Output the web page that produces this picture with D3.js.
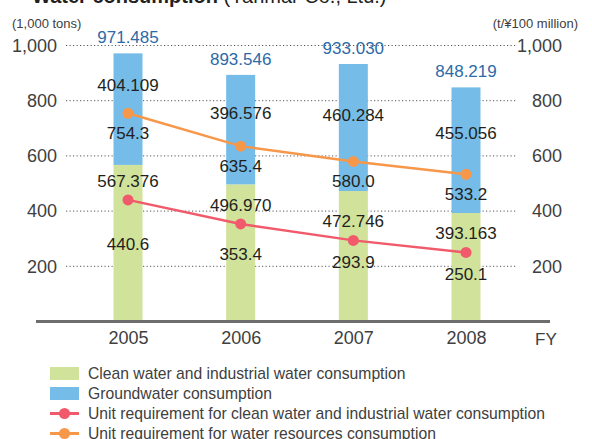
<!DOCTYPE html>
<html><head><meta charset="utf-8">
<script src="https://cdn.jsdelivr.net/npm/d3@7"></script>
<style>
html,body{margin:0;padding:0;background:#fff;}
svg{display:block;font-family:"Liberation Sans",Arial,sans-serif;}
</style></head>
<body><svg id="c" width="592" height="439"></svg>
<script>
const years = ["2005","2006","2007","2008"];
const cleanWater = [567.376, 496.970, 472.746, 393.163];
const groundWater = [404.109, 396.576, 460.284, 455.056];
const totals = [971.485, 893.546, 933.030, 848.219];
const unitClean = [440.6, 353.4, 293.9, 250.1];
const unitResources = [754.3, 635.4, 580.0, 533.2];
const leftTicks = [200, 400, 600, 800, 1000];
const rightTicks = [200, 400, 600, 800, 1000];
const legendLabels = [
  "Clean water and industrial water consumption",
  "Groundwater consumption",
  "Unit requirement for clean water and industrial water consumption",
  "Unit requirement for water resources consumption"
];

const C = {green:"#d1e29a", blue:"#75bce8", red:"#f05a6b", orange:"#f7974a", blueText:"#2c6aa8", text:"#231f20", axis:"#404040"};
const svg = d3.select("#c");
const fmt3 = d3.format(".3f"), fmt1 = d3.format(".1f"), fmtT = d3.format(",");

const x = d3.scalePoint().domain(years).range([128, 466]);
const y = d3.scaleLinear().domain([0, 1000]).range([321.5, 45.5]);
const yR = d3.scaleLinear().domain([0, 1000]).range([321.5, 45.5]);
const barW = 29;

// title (partially cut at top)
const title = svg.append("text").attr("x", 32).attr("y", 3).attr("font-size", 20).attr("fill", "#231f20");
title.append("tspan").attr("font-weight", "bold").text("Water consumption");
title.append("tspan").text(" (Yanmar Co., Ltd.)");

// units
svg.append("text").attr("x", 12).attr("y", 28).attr("font-size", 13).attr("fill", "#404040").text("(1,000 tons)");
svg.append("text").attr("x", 578).attr("y", 28).attr("font-size", 13).attr("fill", "#404040").attr("text-anchor", "end").text("(t/¥100 million)");

// gridlines
svg.append("g").selectAll("line").data(leftTicks).join("line")
  .attr("x1", 66).attr("x2", 516).attr("y1", d => y(d)).attr("y2", d => y(d))
  .attr("stroke", "#555").attr("stroke-width", 1).attr("stroke-dasharray", "1.2,2.3");

// left axis
const gL = svg.append("g").attr("transform", "translate(60,0)")
  .call(d3.axisLeft(y).tickValues(leftTicks).tickFormat(fmtT).tickSize(0).tickPadding(3));
gL.select(".domain").remove();
gL.selectAll("text").attr("font-size", 18).attr("fill", C.axis).attr("font-family", "Liberation Sans, Arial, sans-serif");

// right axis (labels right-aligned)
const gR = svg.append("g").attr("transform", "translate(562,0)")
  .call(d3.axisLeft(yR).tickValues(rightTicks).tickFormat(fmtT).tickSize(0).tickPadding(0));
gR.select(".domain").remove();
gR.selectAll("text").attr("font-size", 18).attr("fill", C.axis).attr("font-family", "Liberation Sans, Arial, sans-serif");

// bars
const rows = years.map((yr, i) => ({yr, c: cleanWater[i], g: groundWater[i], t: totals[i], uc: unitClean[i], ur: unitResources[i]}));
const bars = svg.append("g");
bars.selectAll("rect.cw").data(rows).join("rect").attr("class", "cw")
  .attr("x", d => x(d.yr) - barW/2).attr("width", barW)
  .attr("y", d => y(d.c)).attr("height", d => y(0) - y(d.c)).attr("fill", C.green);
bars.selectAll("rect.gw").data(rows).join("rect").attr("class", "gw")
  .attr("x", d => x(d.yr) - barW/2).attr("width", barW)
  .attr("y", d => y(d.t)).attr("height", d => y(d.c) - y(d.t)).attr("fill", C.blue);

// baseline axis
svg.append("line").attr("x1", 36).attr("x2", 550).attr("y1", 321.5).attr("y2", 321.5)
  .attr("stroke", "#6d6d6d").attr("stroke-width", 3);

// x labels
const gX = svg.append("g").attr("transform", "translate(0,321.5)")
  .call(d3.axisBottom(x).tickSize(0).tickPadding(10));
gX.select(".domain").remove();
gX.selectAll("text").attr("font-size", 18).attr("fill", C.axis).attr("font-family", "Liberation Sans, Arial, sans-serif");
svg.append("text").attr("x", 535).attr("y", 345).attr("font-size", 17).attr("fill", C.axis).text("FY");

// lines
const line = d3.line().x(d => x(d[0])).y(d => yR(d[1]));
function drawSeries(vals, color) {
  const pts = years.map((yr, i) => [yr, vals[i]]);
  svg.append("path").datum(pts).attr("d", line).attr("fill", "none").attr("stroke", color).attr("stroke-width", 2.5);
  svg.append("g").selectAll("circle").data(pts).join("circle")
    .attr("cx", d => x(d[0])).attr("cy", d => yR(d[1])).attr("r", 5.5).attr("fill", color);
}
drawSeries(unitResources, C.orange);
drawSeries(unitClean, C.red);

// value labels
const lab = svg.append("g").attr("font-size", 17).attr("text-anchor", "middle");
lab.selectAll("text.tot").data(rows).join("text").attr("class", "tot")
  .attr("x", d => x(d.yr)).attr("y", d => y(d.t) - 10).attr("fill", C.blueText).text(d => fmt3(d.t));
lab.selectAll("text.gw").data(rows).join("text").attr("class", "gw")
  .attr("x", d => x(d.yr)).attr("y", d => (y(d.t) + yR(d.ur)) / 2 + 8)
  .attr("fill", C.text).text(d => fmt3(d.g));
lab.selectAll("text.ur").data(rows).join("text").attr("class", "ur")
  .attr("x", d => x(d.yr)).attr("y", d => yR(d.ur) + 26).attr("fill", C.text).text(d => fmt1(d.ur));
lab.selectAll("text.cw").data(rows).join("text").attr("class", "cw")
  .attr("x", d => x(d.yr)).attr("y", d => Math.max(y(d.c) + 20, yR(d.uc) - 13))
  .attr("fill", C.text).text(d => fmt3(d.c));
lab.selectAll("text.uc").data(rows).join("text").attr("class", "uc")
  .attr("x", d => x(d.yr)).attr("y", d => Math.max((y(d.c) + y(0)) / 2 + 7, yR(d.uc) + 28))
  .attr("fill", C.text).text(d => fmt1(d.uc));

// legend
const legColors = [C.green, C.blue, C.red, C.orange];
const leg = svg.append("g").attr("transform", "translate(50,373.5)");
const li = leg.selectAll("g").data(legendLabels).join("g").attr("transform", (d, i) => `translate(0,${i * 20})`);
li.each(function(d, i) {
  const g = d3.select(this);
  if (i < 2) {
    g.append("rect").attr("x", 0).attr("y", -6.5).attr("width", 29).attr("height", 13).attr("fill", legColors[i]);
  } else {
    g.append("line").attr("x1", 0).attr("x2", 29).attr("y1", 0).attr("y2", 0).attr("stroke", legColors[i]).attr("stroke-width", 3);
    g.append("circle").attr("cx", 14.5).attr("cy", 0).attr("r", 5.5).attr("fill", legColors[i]);
  }
  g.append("text").attr("x", 38).attr("y", 5.5).attr("font-size", 15.7).attr("fill", "#404040").text(d);
});
</script></body></html>
